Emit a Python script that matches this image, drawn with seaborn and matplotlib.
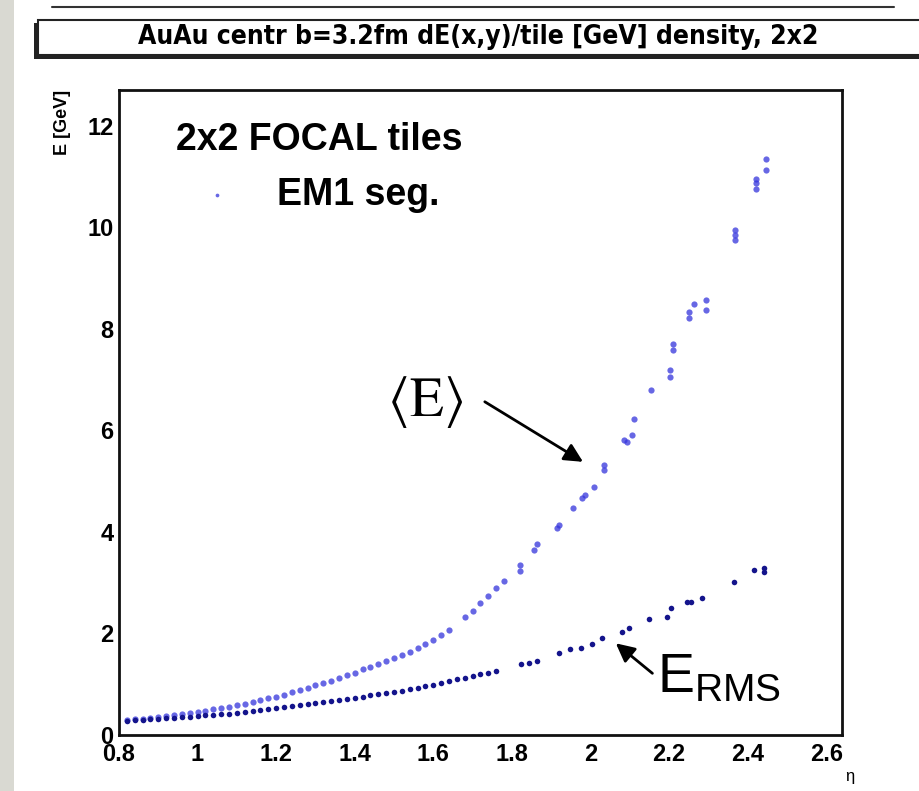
import pandas as pd
import seaborn as sns
import matplotlib.pyplot as plt
from matplotlib.patches import Rectangle
from matplotlib.lines import Line2D
from matplotlib.ticker import MultipleLocator, FixedLocator
from matplotlib import font_manager

# <E> band (upper curve)
eta_mean = [0.82, 0.84, 0.86, 0.88, 0.90, 0.92, 0.94, 0.96, 0.98, 1.00,
            1.02, 1.04, 1.06, 1.08, 1.10, 1.12, 1.14, 1.16, 1.18, 1.20,
            1.22, 1.24, 1.26, 1.28, 1.30, 1.32, 1.34, 1.36, 1.38, 1.40,
            1.42, 1.44, 1.46, 1.48, 1.50, 1.52, 1.54, 1.56, 1.58, 1.60,
            1.62, 1.64, 1.68, 1.70, 1.72, 1.74, 1.76, 1.78, 1.82, 1.82,
            1.856, 1.864, 1.915, 1.92, 1.956, 1.979, 1.985, 2.008, 2.034, 2.034,
            2.085, 2.092, 2.106, 2.110, 2.153, 2.202, 2.202, 2.210, 2.210, 2.250,
            2.250, 2.263, 2.293, 2.293, 2.369, 2.369, 2.369, 2.422, 2.422, 2.422,
            2.446, 2.446]
e_mean = [0.30, 0.31, 0.32, 0.33, 0.35, 0.37, 0.39, 0.41, 0.43, 0.46,
          0.48, 0.51, 0.53, 0.56, 0.59, 0.62, 0.65, 0.68, 0.72, 0.75,
          0.79, 0.84, 0.88, 0.93, 0.98, 1.03, 1.07, 1.12, 1.18, 1.23,
          1.29, 1.34, 1.40, 1.46, 1.52, 1.57, 1.64, 1.71, 1.79, 1.87,
          1.96, 2.06, 2.33, 2.45, 2.60, 2.73, 2.90, 3.03, 3.22, 3.34,
          3.64, 3.77, 4.07, 4.13, 4.46, 4.66, 4.72, 4.89, 5.22, 5.32,
          5.80, 5.76, 5.90, 6.23, 6.79, 7.05, 7.18, 7.58, 7.70, 8.22,
          8.32, 8.49, 8.56, 8.36, 9.94, 9.74, 9.84, 10.95, 10.76, 10.86,
          11.35, 11.12]

# E_RMS band (lower curve)
eta_rms = [0.82, 0.84, 0.86, 0.88, 0.90, 0.92, 0.94, 0.96, 0.98, 1.00,
           1.02, 1.04, 1.06, 1.08, 1.10, 1.12, 1.14, 1.16, 1.18, 1.20,
           1.22, 1.24, 1.26, 1.28, 1.30, 1.32, 1.34, 1.36, 1.38, 1.40,
           1.42, 1.44, 1.46, 1.48, 1.50, 1.52, 1.54, 1.56, 1.58, 1.60,
           1.62, 1.64, 1.66, 1.68, 1.70, 1.72, 1.74, 1.76, 1.822, 1.843,
           1.864, 1.919, 1.949, 1.975, 2.004, 2.030, 2.081, 2.098, 2.149, 2.195,
           2.205, 2.246, 2.257, 2.285, 2.364, 2.416, 2.442, 2.442]
e_rms = [0.28, 0.29, 0.30, 0.31, 0.32, 0.33, 0.34, 0.35, 0.36, 0.38,
         0.39, 0.40, 0.41, 0.42, 0.44, 0.45, 0.47, 0.49, 0.51, 0.53,
         0.55, 0.57, 0.59, 0.61, 0.63, 0.65, 0.67, 0.69, 0.71, 0.73,
         0.75, 0.78, 0.80, 0.82, 0.85, 0.87, 0.90, 0.93, 0.96, 0.99,
         1.03, 1.06, 1.10, 1.13, 1.17, 1.20, 1.23, 1.26, 1.39, 1.42,
         1.46, 1.61, 1.69, 1.72, 1.80, 1.91, 2.03, 2.10, 2.28, 2.33,
         2.50, 2.62, 2.62, 2.70, 3.02, 3.25, 3.28, 3.20]

x_ticks = [0.8, 1.0, 1.2, 1.4, 1.6, 1.8, 2.0, 2.2, 2.4, 2.6]
x_labels = ['0.8', '1', '1.2', '1.4', '1.6', '1.8', '2', '2.2', '2.4', '2.6']
y_ticks = [0, 2, 4, 6, 8, 10, 12]
title = 'AuAu centr b=3.2fm dE(x,y)/tile [GeV] density, 2x2'

sns.set_style('white')
plt.rcParams['font.family'] = ['Liberation Sans', 'DejaVu Sans']
plt.rcParams['mathtext.fontset'] = 'custom'
plt.rcParams['mathtext.rm'] = 'Liberation Sans'
for k in ['text.color', 'axes.labelcolor', 'xtick.color', 'ytick.color']:
    plt.rcParams[k] = 'black'

# narrow bold face for the title, if one is there
names = {f.name for f in font_manager.fontManager.ttflist}
narrow = [n for n in ['Liberation Sans Narrow', 'DejaVu Sans Condensed'] if n in names]

df_mean = pd.DataFrame({'eta': eta_mean, 'E': e_mean})
df_rms = pd.DataFrame({'eta': eta_rms, 'E': e_rms})

fig = plt.figure(figsize=(9.2, 7.91), dpi=100)
ax = fig.add_axes([0.1293, 0.0708, 0.7859, 0.8154])

sns.scatterplot(data=df_mean, x='eta', y='E', ax=ax, color='#3434dc', s=20,
                marker='o', linewidth=0, alpha=0.75, label='EM1 seg.')
sns.scatterplot(data=df_rms, x='eta', y='E', ax=ax, color='#14148c', s=16,
                marker='o', linewidth=0, legend=False)

ax.set_xlim(0.8, 2.64)
ax.set_ylim(0, 12.7)
ax.xaxis.set_major_locator(FixedLocator(x_ticks))
ax.set_xticklabels(x_labels)
ax.xaxis.set_minor_locator(MultipleLocator(0.05))
ax.set_yticks(y_ticks)
ax.yaxis.set_minor_locator(MultipleLocator(0.5))

ax.tick_params(axis='both', which='both', direction='in', top=False, right=False)
ax.tick_params(axis='y', which='major', length=15, width=1.5, pad=4)
ax.tick_params(axis='y', which='minor', length=8.5, width=1.5)
ax.tick_params(axis='x', which='major', length=13, width=1.5, pad=6)
ax.tick_params(axis='x', which='minor', length=7, width=1.5)
for lab in ax.get_xticklabels() + ax.get_yticklabels():
    lab.set_fontweight('bold')
    lab.set_fontsize(17)
for sp in ax.spines.values():
    sp.set_linewidth(2)
    sp.set_color('#111111')

ax.set_ylabel('E [GeV]', loc='top', fontsize=13, fontweight='bold')
ax.yaxis.set_label_coords(-0.066, 1.0)
ax.set_xlabel('η', loc='right', fontsize=12)
ax.xaxis.set_label_coords(1.017, -0.053)

leg = ax.legend(title='2x2 FOCAL tiles', loc='upper left', bbox_to_anchor=(0.053, 0.979),
                frameon=False, borderpad=0, prop={'weight': 'bold', 'size': 27},
                title_fontproperties={'weight': 'bold', 'size': 27},
                markerscale=0.6, handletextpad=1.12, handlelength=0.96)

# annotations
ax.annotate('', xy=(1.987, 5.35), xytext=(1.725, 6.59),
            arrowprops=dict(arrowstyle='-|>', color='black', lw=2, mutation_scale=28))
ax.text(1.58, 6.55, r'$\langle \mathrm{E} \rangle$', fontsize=40, ha='center', va='center',
        math_fontfamily='stix')
ax.annotate('', xy=(2.059, 1.84), xytext=(2.163, 1.18),
            arrowprops=dict(arrowstyle='-|>', color='black', lw=2, mutation_scale=28))
ax.text(2.17, 0.85, r'$\mathrm{E}_{\mathrm{RMS}}$', fontsize=40, ha='left', va='baseline')

# ROOT style title box with shadow
fig.patches.append(Rectangle((0.037, 0.926), 0.97, 0.045, transform=fig.transFigure,
                             facecolor='#222222', edgecolor='none', zorder=1))
fig.patches.append(Rectangle((0.041, 0.931), 0.97, 0.044, transform=fig.transFigure,
                             facecolor='white', edgecolor='#222222', lw=1.5, zorder=2))
if narrow:
    fig.text(0.52, 0.953, title, ha='center', va='center', fontsize=20, fontweight='bold',
             family=[narrow[0], 'DejaVu Sans'], zorder=3)
else:
    fig.text(0.52, 0.953, title, ha='center', va='center', fontsize=19, fontweight='bold',
             family='DejaVu Sans', fontstretch='condensed', zorder=3)

# slide remnants: grey left strip and top rule
fig.patches.append(Rectangle((0, 0), 0.015, 1, transform=fig.transFigure,
                             facecolor='#d9d9d2', edgecolor='none'))
fig.lines.append(Line2D([0.057, 0.972], [0.991, 0.991], transform=fig.transFigure,
                        color='#333333', lw=1.5))

plt.savefig('out.png', dpi=100)
